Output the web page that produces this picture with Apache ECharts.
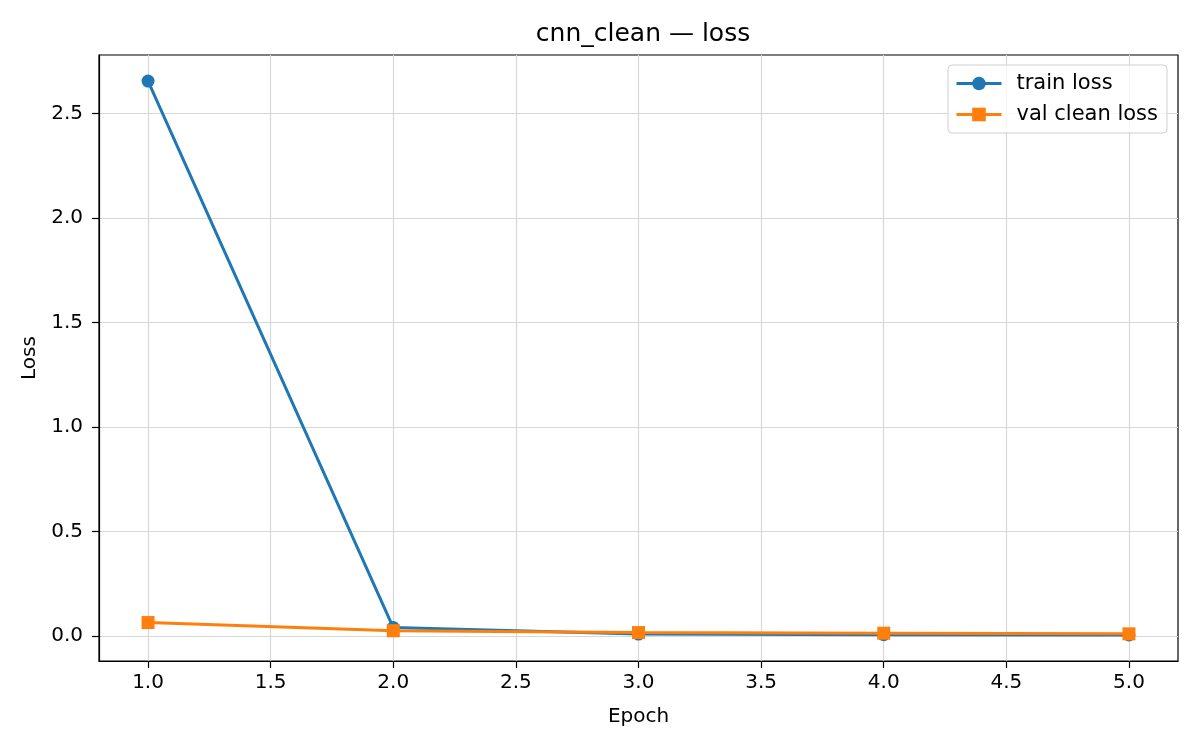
<!DOCTYPE html>
<html>
<head>
<meta charset="utf-8">
<script src="https://cdn.jsdelivr.net/npm/echarts@6/dist/echarts.min.js"></script>
<style>
  html, body { margin: 0; padding: 0; background: #fff; }
  #chart { width: 1200px; height: 750px; }
</style>
</head>
<body>
<div id="chart"></div>
<script>
// values
var epochs = [1, 2, 3, 4, 5];
var trainLoss = [2.655, 0.040, 0.009, 0.006, 0.005];
var valCleanLoss = [0.064, 0.025, 0.016, 0.013, 0.010];

// tick positions shown on the axes
var xTicks = [1.0, 1.5, 2.0, 2.5, 3.0, 3.5, 4.0, 4.5, 5.0];
var yTicks = [0.0, 0.5, 1.0, 1.5, 2.0, 2.5];

function pairs(xs, ys) {
    var out = [];
    for (var i = 0; i < xs.length; i++) {
        out.push([xs[i], ys[i]]);
    }
    return out;
}

var font = 'DejaVu Sans';
var chart = echarts.init(document.getElementById('chart'));

function oneDecimal(v) {
    return Number(v).toFixed(1);
}

var option = {
    backgroundColor: '#fff',
    animation: false,
    textStyle: { fontFamily: font },
    title: {
        text: 'cnn_clean — loss',
        left: 638,
        textAlign: 'center',
        top: 17,
        textStyle: { fontFamily: font, fontSize: 25, fontWeight: 'normal', color: '#000' }
    },
    legend: {
        orient: 'vertical',
        right: 33,
        top: 65,
        padding: [8, 9, 8, 7],
        itemGap: 10,
        itemWidth: 45,
        itemHeight: 17,
        borderColor: '#d0d0d0',
        borderWidth: 1,
        borderRadius: 4,
        backgroundColor: 'rgba(255,255,255,0.8)',
        lineStyle: { width: 3 },
        textStyle: { fontFamily: font, fontSize: 21, color: '#000', padding: [0, 0, 0, 10] },
        data: ['train loss', 'val clean loss']
    },
    grid: {
        left: 99,
        right: 22,
        top: 55,
        bottom: 89,
        show: true,
        borderColor: '#000',
        borderWidth: 1.2,
        containLabel: false
    },
    xAxis: {
        type: 'value',
        min: 0.8,
        max: 5.2,
        name: 'Epoch',
        nameLocation: 'middle',
        nameGap: 46,
        nameTextStyle: { fontFamily: font, fontSize: 20, color: '#000' },
        axisLine: { show: true, onZero: false, lineStyle: { color: '#000', width: 1.2 } },
        axisTick: { show: true, length: 7, customValues: xTicks, lineStyle: { color: '#000', width: 1.2 } },
        axisLabel: {
            customValues: xTicks,
            fontFamily: font,
            fontSize: 20,
            color: '#000',
            margin: 12,
            formatter: oneDecimal
        },
        splitLine: { show: true, customValues: xTicks, lineStyle: { color: '#d8d8d8', width: 1.2 } }
    },
    yAxis: {
        type: 'value',
        min: -0.12,
        max: 2.78,
        name: 'Loss',
        nameLocation: 'middle',
        nameGap: 51,
        nameTextStyle: { fontFamily: font, fontSize: 20, color: '#000' },
        axisLine: { show: true, onZero: false, lineStyle: { color: '#000', width: 1.2 } },
        axisTick: { show: true, length: 7, customValues: yTicks, lineStyle: { color: '#000', width: 1.2 } },
        axisLabel: {
            customValues: yTicks,
            fontFamily: font,
            fontSize: 20,
            color: '#000',
            margin: 16,
            formatter: oneDecimal
        },
        splitLine: { show: true, customValues: yTicks, lineStyle: { color: '#d8d8d8', width: 1.2 } }
    },
    series: [{
        name: 'train loss',
        type: 'line',
        data: pairs(epochs, trainLoss),
        symbol: 'circle',
        symbolSize: 13,
        color: '#1f77b4',
        lineStyle: { width: 3, color: '#1f77b4' },
        itemStyle: { color: '#1f77b4' },
        z: 2
    }, {
        name: 'val clean loss',
        type: 'line',
        data: pairs(epochs, valCleanLoss),
        symbol: 'rect',
        symbolSize: 13,
        color: '#ff7f0e',
        lineStyle: { width: 3, color: '#ff7f0e' },
        itemStyle: { color: '#ff7f0e' },
        z: 3
    }]
};

chart.setOption(option);
</script>
</body>
</html>
